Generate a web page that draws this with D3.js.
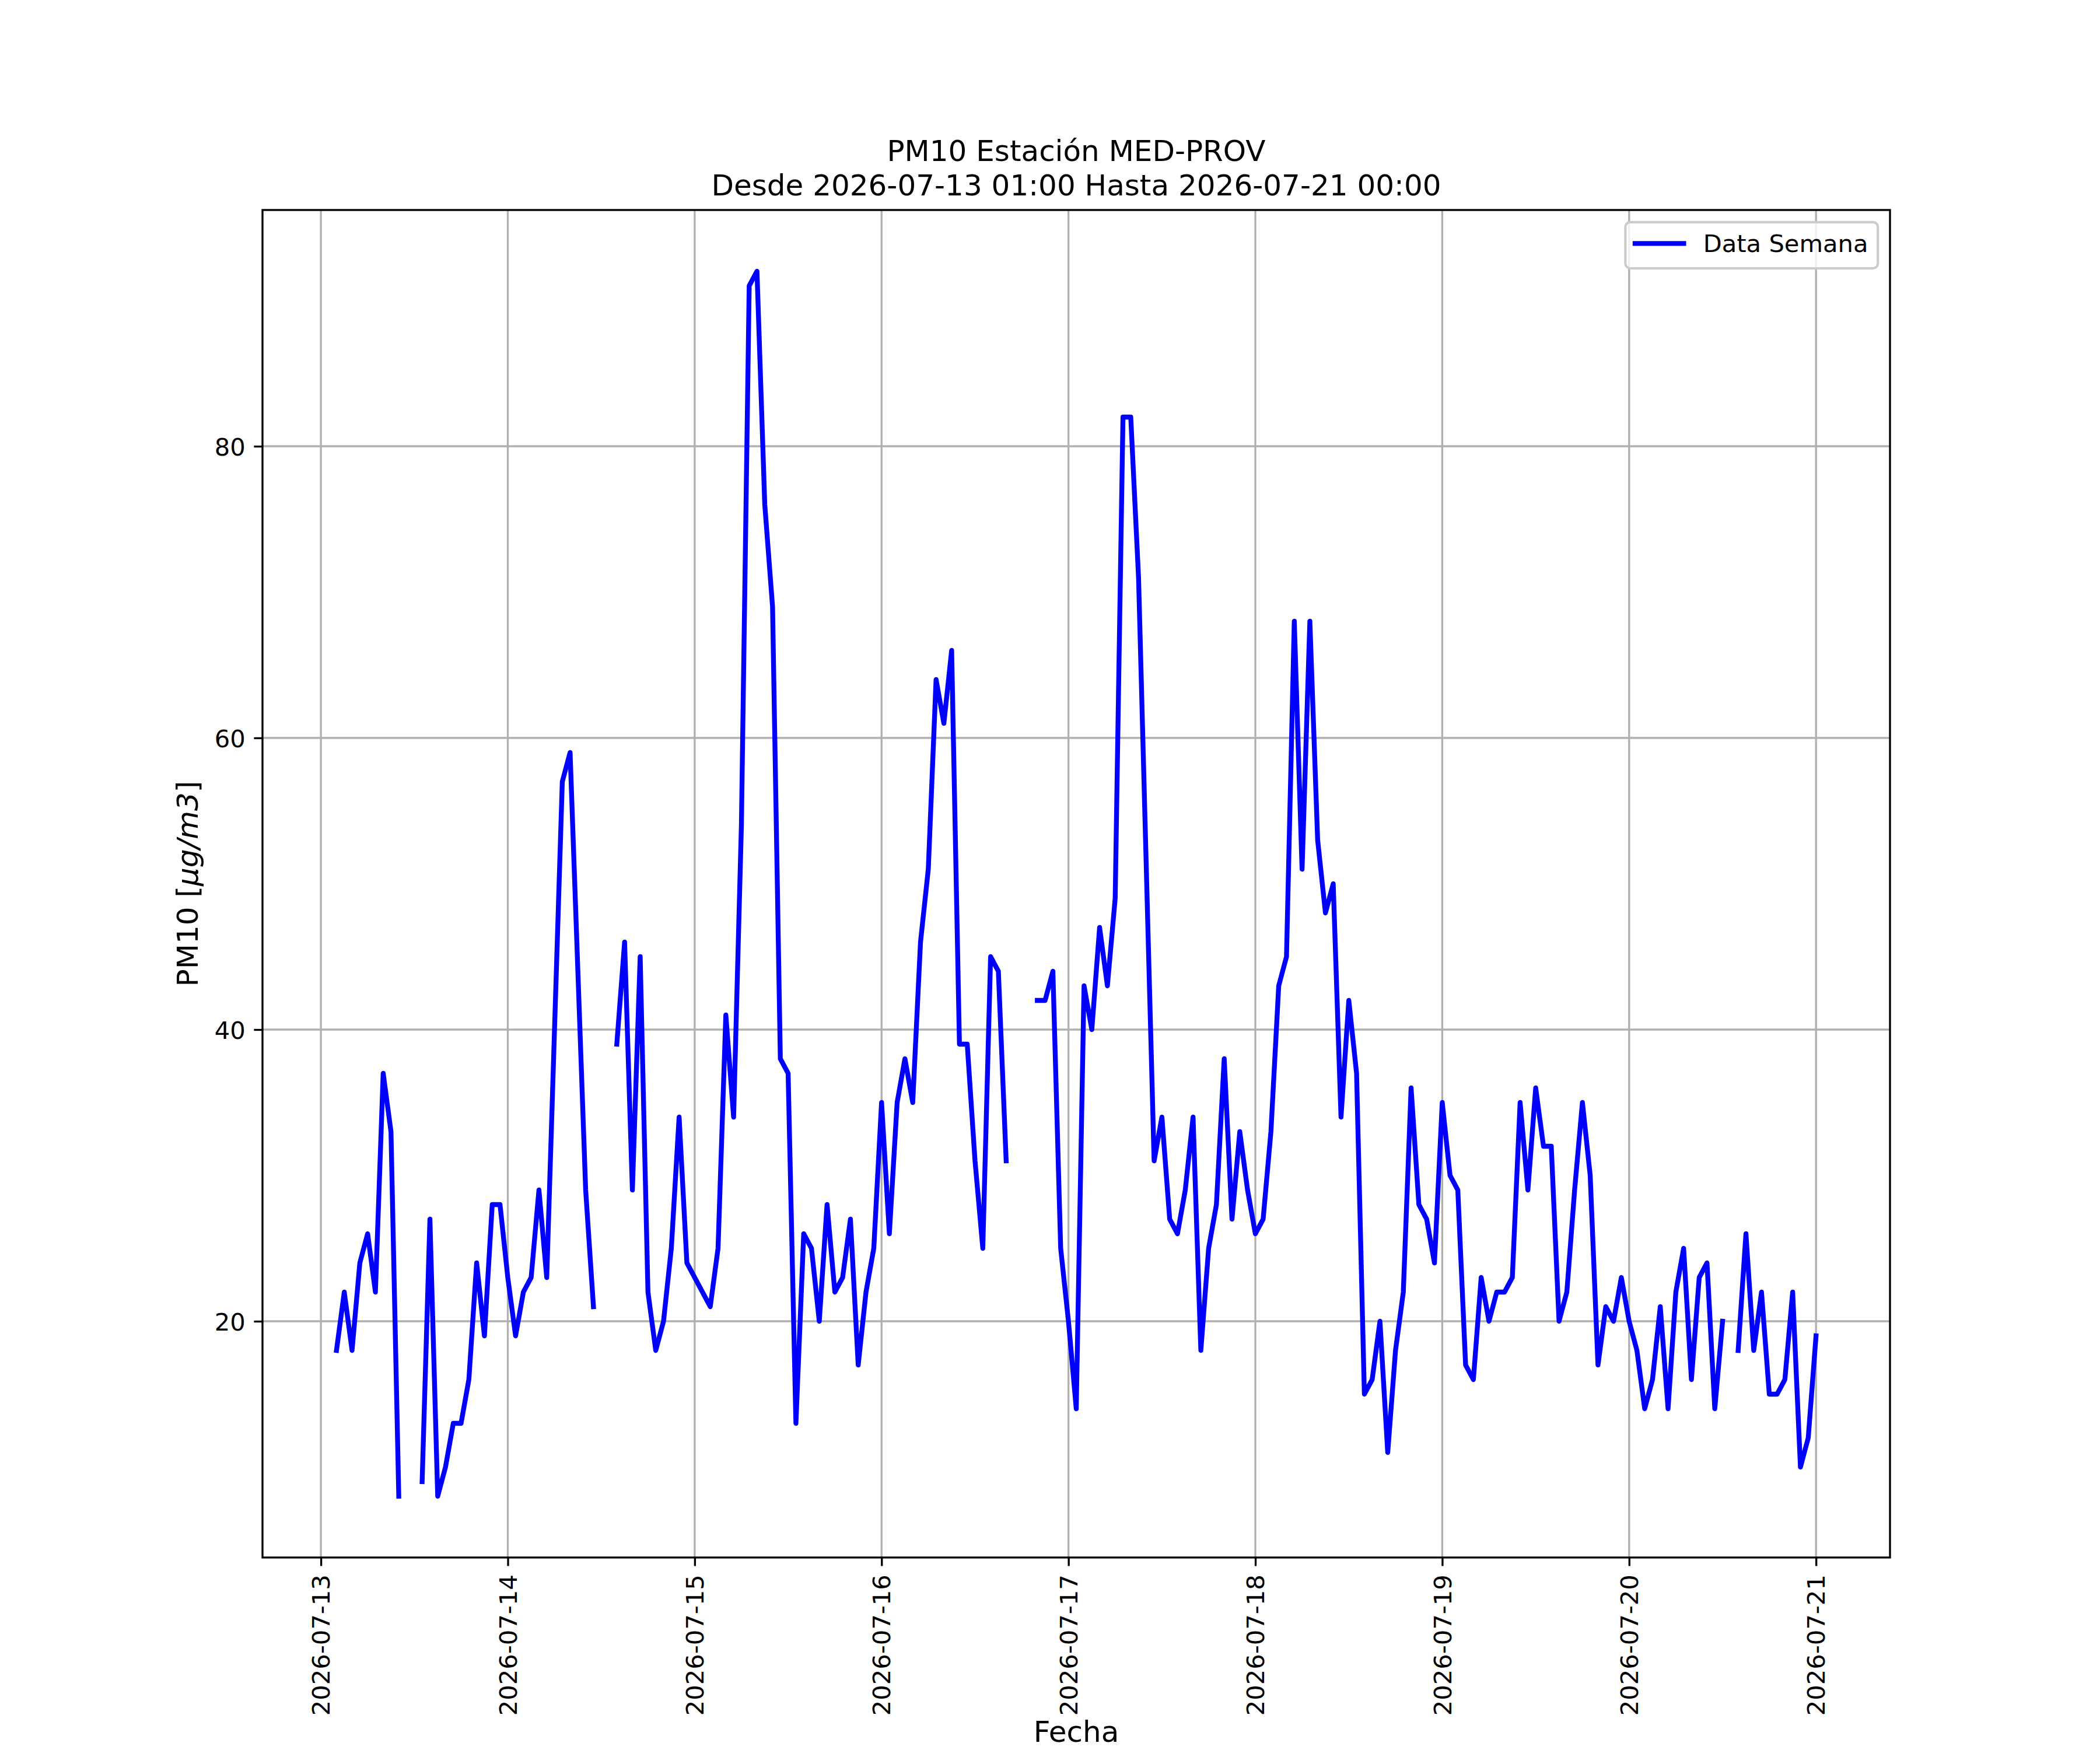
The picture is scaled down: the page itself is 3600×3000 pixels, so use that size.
<!DOCTYPE html>
<html>
<head>
<meta charset="utf-8">
<script src="https://cdn.jsdelivr.net/npm/d3@7"></script>
<style>
  html, body { margin: 0; padding: 0; background: #ffffff; }
  svg { display: block; }
  text { font-family: "DejaVu Sans", sans-serif; }
</style>
</head>
<body>
<svg id="chart" width="3600" height="3000"></svg>
<script>
// ---- Data (hourly PM10, first value at 2026-07-13 01:00 UTC; null = missing) ----
const titleLines = ["PM10 Estación MED-PROV", "Desde 2026-07-13 01:00 Hasta 2026-07-21 00:00"];
const seriesName = "Data Semana";
const startISO = "2026-07-13T01:00:00Z";
const pm10 = [
  null, 18, 22, 18, 24, 26, 22, 37, 33, 8, null, null,            // 01..12  (07-13)
  9, 27, 8, 10, 13, 13, 16, 24, 19, 28, 28, 23,                   // 13..24
  19, 22, 23, 29, 23, 40, 57, 59, 44, 29, 21, null,               // 07-14 01..12
  null, 39, 46, 29, 45, 22, 18, 20, 25, 34, 24, 23,               // 13..24
  22, 21, 25, 41, 34, 54, 91, 92, 76, 69, 38, 37,                 // 07-15 01..12
  13, 26, 25, 20, 28, 22, 23, 27, 17, 22, 25, 35,                 // 13..24
  26, 35, 38, 35, 46, 51, 64, 61, 66, 39, 39, 31,                 // 07-16 01..12
  25, 45, 44, 31, null, null, null, 42, 42, 44, 25, 20,           // 13..24
  14, 43, 40, 47, 43, 49, 82, 82, 71, 51, 31, 34,                 // 07-17 01..12
  27, 26, 29, 34, 18, 25, 28, 38, 27, 33, 29, 26,                 // 13..24
  27, 33, 43, 45, 68, 51, 68, 53, 48, 50, 34, 42,                 // 07-18 01..12
  37, 15, 16, 20, 11, 18, 22, 36, 28, 27, 24, 35,                 // 13..24
  30, 29, 17, 16, 23, 20, 22, 22, 23, 35, 29, 36,                 // 07-19 01..12
  32, 32, 20, 22, 29, 35, 30, 17, 21, 20, 23, 20,                 // 13..24
  18, 14, 16, 21, 14, 22, 25, 16, 23, 24, 14, 20,                 // 07-20 01..12
  null, 18, 26, 18, 22, 15, 15, 16, 22, 10, 12, 19                // 13..24
];
const yTicks = [20, 40, 60, 80];
const xTickFormat = "%Y-%m-%d";
const yLabelParts = [["PM10 [", "normal"], ["μg/m3", "italic"], ["]", "normal"]];
const xLabel = "Fecha";

// ---- Layout ----
const W = 3600, H = 3000;
const L = 450, R = 3240, T = 360, B = 2670;
const pt = 300 / 72;
const tickFont = 10 * pt, labelFont = 12 * pt, titleFont = 12 * pt, legendFont = 10 * pt;
const lineW = 2 * pt;

const t0 = new Date(startISO).getTime();
const data = pm10.map((v, i) => ({ t: new Date(t0 + i * 3600e3), v }));
const valid = data.filter(d => d.v != null);

const [tMin, tMax] = d3.extent(valid, d => d.t.getTime());
const tPad = (tMax - tMin) * 0.05;
const [vMin, vMax] = d3.extent(valid, d => d.v);
const vPad = (vMax - vMin) * 0.05;

const x = d3.scaleUtc().domain([new Date(tMin - tPad), new Date(tMax + tPad)]).range([L, R]);
const y = d3.scaleLinear().domain([vMin - vPad, vMax + vPad]).range([B, T]);

const svg = d3.select("#chart");
svg.append("rect").attr("width", W).attr("height", H).attr("fill", "#ffffff");

const xTicks = x.ticks(d3.utcDay.every(1));

// grid
const grid = svg.append("g").attr("stroke", "#b0b0b0").attr("stroke-width", 0.8 * pt);
grid.selectAll("line.gx").data(xTicks).join("line").attr("class", "gx")
  .attr("x1", d => x(d)).attr("x2", d => x(d)).attr("y1", T).attr("y2", B);
grid.selectAll("line.gy").data(yTicks).join("line").attr("class", "gy")
  .attr("x1", L).attr("x2", R).attr("y1", d => y(d)).attr("y2", d => y(d));

// data line
const line = d3.line().defined(d => d.v != null).x(d => x(d.t)).y(d => y(d.v));
svg.append("path").datum(data)
  .attr("d", line)
  .attr("fill", "none")
  .attr("stroke", "#0000ff")
  .attr("stroke-width", lineW)
  .attr("stroke-linejoin", "round")
  .attr("stroke-linecap", "square");

// axes
const tickLen = 3.5 * pt, tickPad = 3.5 * pt;
const xAxis = d3.axisBottom(x).tickValues(xTicks).tickFormat(d3.utcFormat(xTickFormat))
  .tickSize(tickLen).tickPadding(tickPad);
const gx = svg.append("g").attr("transform", `translate(0,${B})`).call(xAxis);
gx.select(".domain").remove();
gx.selectAll(".tick line").attr("stroke", "#000").attr("stroke-width", 0.8 * pt);
gx.selectAll(".tick text")
  .attr("font-family", "DejaVu Sans").attr("font-size", tickFont).attr("fill", "#000")
  .attr("text-anchor", "end")
  .attr("transform", `translate(0,${tickLen + tickPad}) rotate(-90)`)
  .attr("x", 0).attr("y", 0).attr("dy", "0.35em");

const yAxis = d3.axisLeft(y).tickValues(yTicks).tickFormat(d3.format("d"))
  .tickSize(tickLen).tickPadding(tickPad);
const gy = svg.append("g").attr("transform", `translate(${L},0)`).call(yAxis);
gy.select(".domain").remove();
gy.selectAll(".tick line").attr("stroke", "#000").attr("stroke-width", 0.8 * pt);
gy.selectAll(".tick text")
  .attr("font-family", "DejaVu Sans").attr("font-size", tickFont).attr("fill", "#000")
  .attr("dy", "0.36em");

// spines
svg.append("rect").attr("x", L).attr("y", T).attr("width", R - L).attr("height", B - T)
  .attr("fill", "none").attr("stroke", "#000").attr("stroke-width", 0.8 * pt);

// title
const title = svg.append("text").attr("text-anchor", "middle")
  .attr("font-size", titleFont).attr("fill", "#000");
titleLines.forEach((s, i) => {
  title.append("tspan").attr("x", (L + R) / 2)
    .attr("y", 335 - (titleLines.length - 1 - i) * 59).text(s);
});

// x label
svg.append("text").attr("x", (L + R) / 2).attr("y", 2986)
  .attr("text-anchor", "middle").attr("font-size", labelFont).attr("fill", "#000")
  .text(xLabel);

// y label
const yl = svg.append("text")
  .attr("transform", `translate(339,${(T + B) / 2}) rotate(-90)`)
  .attr("text-anchor", "middle").attr("font-size", labelFont).attr("fill", "#000");
yLabelParts.forEach(([s, st]) => yl.append("tspan").attr("font-style", st).text(s));

// legend
const lg = svg.append("g");
const lgRight = R - 0.5 * legendFont, lgTop = T + 0.5 * legendFont;
const tmp = lg.append("text").attr("font-size", legendFont).text(seriesName);
const tw = tmp.node().getComputedTextLength();
tmp.remove();
const bp = 0.4 * legendFont, hl = 2.0 * legendFont, htp = 0.8 * legendFont;
const lgW = bp * 2 + hl + htp + tw;
const lgH = bp * 2 + 1.1 * legendFont;
const lgLeft = lgRight - lgW;
lg.append("rect").attr("x", lgLeft).attr("y", lgTop).attr("width", lgW).attr("height", lgH)
  .attr("rx", 0.2 * legendFont).attr("ry", 0.2 * legendFont)
  .attr("fill", "#ffffff").attr("fill-opacity", 0.8)
  .attr("stroke", "#cccccc").attr("stroke-width", 1.0 * pt);
const midY = lgTop + lgH / 2 - 3;
lg.append("line").attr("x1", lgLeft + bp).attr("x2", lgLeft + bp + hl)
  .attr("y1", midY).attr("y2", midY)
  .attr("stroke", "#0000ff").attr("stroke-width", lineW).attr("stroke-linecap", "square");
lg.append("text").attr("x", lgLeft + bp + hl + htp).attr("y", midY).attr("dy", "0.36em")
  .attr("font-size", legendFont).attr("fill", "#000").text(seriesName);
</script>
</body>
</html>
